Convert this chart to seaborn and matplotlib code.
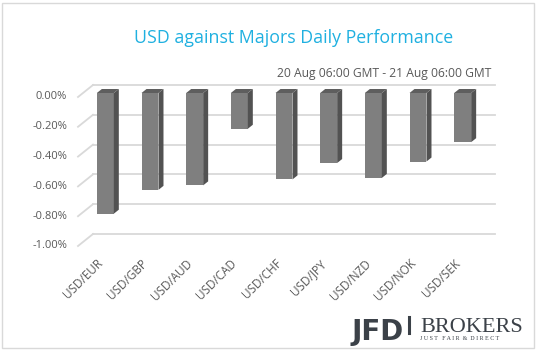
# USD vs majors, Excel-style 3D column chart

import pandas as pd
import seaborn as sns
import matplotlib.pyplot as plt
from matplotlib.patches import Polygon, Rectangle
from matplotlib.lines import Line2D
from matplotlib.transforms import ScaledTranslation, IdentityTransform

pairs = ['USD/EUR', 'USD/GBP', 'USD/AUD', 'USD/CAD', 'USD/CHF',
         'USD/JPY', 'USD/NZD', 'USD/NOK', 'USD/SEK']
change = [-0.81, -0.65, -0.62, -0.24, -0.58, -0.47, -0.57, -0.46, -0.33]
yticks = [0.0, -0.2, -0.4, -0.6, -0.8, -1.0]

title = 'USD against Majors Daily Performance'
subtitle = '20 Aug 06:00 GMT - 21 Aug 06:00 GMT'

W, H = 538, 351
grid_col = '#d9d9d9'
text_col = '#595959'
font = 'Open Sans'

fig = plt.figure(figsize=(W / 100, H / 100), dpi=100)
ax = fig.add_axes([93 / W, 1 - 234 / H, 402 / W, 149 / H])


def off(dx, dy):
    # shift in pixels
    return ScaledTranslation(dx / 100, dy / 100, fig.dpi_scale_trans)


df = pd.DataFrame({'pair': pairs, 'change': change})
sns.barplot(data=df, x='pair', y='change', color='#7f7f7f', saturation=1,
            width=0.38, ax=ax, zorder=3)
ax.set_xlim(-0.5, len(pairs) - 0.5)
ax.set_ylim(-1.0, 0.0)
ax.set_yticks(yticks)
ax.set_xlabel('')
ax.set_ylabel('')
ax.tick_params(length=0, labelleft=False, labelbottom=False)
for s in ax.spines.values():
    s.set_visible(False)
ax.grid(axis='y', color=grid_col, lw=1.3)
ax.grid(axis='x', visible=False)
for gl in ax.get_ygridlines():
    gl.set_clip_on(False)

# front faces sit forward of the back wall
front = off(-10, -8)
for p in ax.patches:
    p.set_transform(ax.transData + front)
    p.set_clip_on(False)

dx, dy = 5, 4
for p in ax.patches:
    x0 = p.get_x()
    x1 = x0 + p.get_width()
    ytop = p.get_y()
    ybot = ytop + p.get_height()
    X0, Y0 = (ax.transData + front).transform((x0, ytop))
    X1, Yb = (ax.transData + front).transform((x1, ybot))
    side = [(X1, Y0), (X1, Yb), (X1 + dx, Yb + dy), (X1 + dx, Y0 + dy)]
    top = [(X0, Y0), (X1, Y0), (X1 + dx, Y0 + dy), (X0 + dx, Y0 + dy)]
    fig.add_artist(Polygon(side, closed=True, fc='#525252', ec='none',
                           transform=IdentityTransform(), zorder=4))
    fig.add_artist(Polygon(top, closed=True, fc='#5e5e5e', ec='none',
                           transform=IdentityTransform(), zorder=4))

# side wall diagonals + y labels
for v in yticks:
    X, Y = ax.transData.transform((-0.5, v))
    fig.add_artist(Line2D([X, X - 15], [Y, Y - 12], color=grid_col, lw=1.3,
                          transform=IdentityTransform()))
    ax.text(-0.5, v, f'{v:.2f}%', transform=ax.transData + off(-26, -12),
            ha='right', va='center', fontsize=8, color=text_col,
            family=font, clip_on=False)

for i, lab in enumerate(pairs):
    ax.text(i, -1.0, lab, transform=ax.transData + off(-19, -23),
            rotation=45, rotation_mode='anchor', ha='right', va='top',
            fontsize=8.5, color=text_col, family=font, clip_on=False)

fig.text(293.5 / W, 1 - 38 / H, title, ha='center', va='center',
         fontsize=12.8, color='#1fb0e0', family=font)
fig.text(491 / W, 1 - 73 / H, subtitle, ha='right', va='center',
         fontsize=8.7, color=text_col, family=font)

# logo
fig.text(352 / W, 1 - 340 / H, 'JFD', ha='left', va='baseline',
         fontsize=20, fontweight='bold', color='#3b4148',
         family=['Liberation Sans Narrow', 'DejaVu Sans'])
fig.add_artist(Line2D([409 / W, 409 / W], [1 - 333 / H, 1 - 317 / H],
                      color='#3b4148', lw=2.2))
fig.text(420 / W, 1 - 332 / H, 'BROKERS', ha='left', va='baseline',
         fontsize=16, color='#3b4148', family='Liberation Serif')
fig.text(420 / W, 1 - 340 / H, 'J U S T   F A I R  &  D I R E C T',
         ha='left', va='baseline', fontsize=4.3, color='#3b4148',
         family='Liberation Serif')

fig.add_artist(Rectangle((2 / W, 3 / H), 532 / W, 345 / H, fill=False,
                         ec=grid_col, lw=1, transform=fig.transFigure))

fig.savefig('out.png', dpi=100)
